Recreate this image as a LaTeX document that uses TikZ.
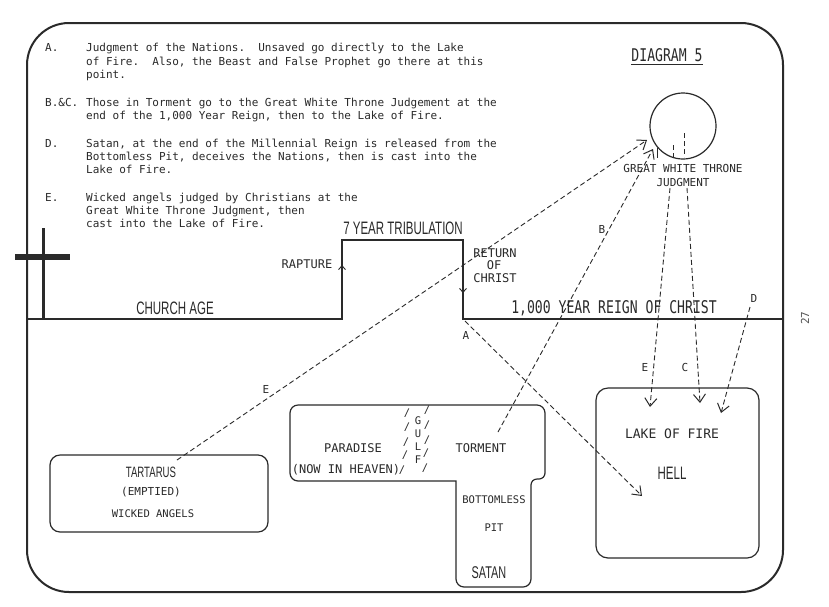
\documentclass[tikz,border=0pt]{standalone}
\usepackage{fontspec}
\usetikzlibrary{arrows.meta}
\newfontfamily\tw{DejaVu Sans Mono}
\newfontfamily\twc[FakeStretch=0.75]{DejaVu Sans Mono}
\newfontfamily\cond[FakeStretch=0.64]{Liberation Sans}
\definecolor{ink}{HTML}{2A2A2A}
\tikzset{
  body/.style={anchor=base west, inner sep=0pt, text=ink, font=\tw\fontsize{11}{13}\selectfont},
  lbl/.style={inner sep=0pt, text=ink, font=\tw\fontsize{12}{14}\selectfont},
  smalllbl/.style={inner sep=0pt, text=ink, font=\tw\fontsize{11}{13}\selectfont},
  tinylbl/.style={inner sep=0pt, text=ink, font=\tw\fontsize{10.5}{12}\selectfont},
  biglbl/.style={inner sep=0pt, text=ink, font=\cond\fontsize{18}{20}\selectfont},
  bigmono/.style={inner sep=0pt, text=ink, font=\twc\fontsize{17.5}{20}\selectfont},
  conn/.style={draw=ink, line width=0.9pt, dash pattern=on 5pt off 3pt,
    -{Straight Barb[length=8pt,width=12pt,line width=1pt]}},
  stub/.style={draw=ink, line width=0.9pt, dash pattern=on 5pt off 3pt},
  boxline/.style={draw=ink, line width=1.2pt},
}
\begin{document}
\begin{tikzpicture}[x=1pt,y=-1pt]
\fill[white] (0,0) rectangle (829,606);
\useasboundingbox (0,0) rectangle (829,606);

% outer frame
\draw[ink, line width=2pt, rounded corners=42pt] (27,23) rectangle (783,592);

% cross
\draw[ink, line width=3pt] (43,228) -- (43,319);
\draw[ink, line width=6pt] (15,257) -- (70,257);

% timeline
\draw[ink, line width=2pt] (27,319) -- (342,319) -- (342,240) -- (463,240) -- (463,319) -- (782,319);
\draw[ink, line width=0.9pt, -{Straight Barb[length=4pt,width=7pt,line width=0.9pt]}] (342,276) -- (342,265);
\draw[ink, line width=0.9pt, -{Straight Barb[length=4pt,width=7pt,line width=0.9pt]}] (463,282) -- (463,293);

% top text
\node[body] (la) at (45,51) {A.};
\node[body] (ta1) at (86,51) {Judgment of the Nations.\ \ Unsaved go directly to the Lake};
\node[body] (ta2) at (86,65) {of Fire.\ \ Also, the Beast and False Prophet go there at this};
\node[body] (ta3) at (86,78) {point.};
\node[body] (lb) at (45,106) {B.\&C.};
\node[body] (tb1) at (86,106) {Those in Torment go to the Great White Throne Judgement at the};
\node[body] (tb2) at (86,119) {end of the 1,000 Year Reign, then to the Lake of Fire.};
\node[body] (ld) at (45,147) {D.};
\node[body] (td1) at (86,147) {Satan, at the end of the Millennial Reign is released from the};
\node[body] (td2) at (86,160) {Bottomless Pit, deceives the Nations, then is cast into the};
\node[body] (td3) at (86,173) {Lake of Fire.};
\node[body] (le) at (45,201) {E.};
\node[body] (te1) at (86,201) {Wicked angels judged by Christians at the};
\node[body] (te2) at (86,214) {Great White Throne Judgment, then};
\node[body] (te3) at (86,227) {cast into the Lake of Fire.};

% timeline labels
\node[biglbl] (trib) at (403,228) {7 YEAR TRIBULATION};
\node[biglbl] (church) at (175,308) {CHURCH AGE};
\node[bigmono] (reign) at (614,308) {1,000 YEAR REIGN OF CHRIST};
\node[lbl] (rapture) at (307,264) {RAPTURE};
\node[lbl] (ret1) at (495,253) {RETURN};
\node[lbl] (ret2) at (494,265) {OF};
\node[lbl] (ret3) at (495,278) {CHRIST};

% diagram title
\node[bigmono] (dia) at (667,55) {DIAGRAM 5};
\draw[ink, line width=1pt] ([yshift=-3pt]dia.south west) -- ([yshift=-3pt]dia.south east);

% great white throne
\node[draw=ink, line width=1.2pt, circle, minimum size=66pt, inner sep=0pt] (gwt) at (683,126) {};
\node[smalllbl] (gwt1) at (683,168) {GREAT WHITE THRONE};
\node[smalllbl] (gwt2) at (683,182) {JUDGMENT};
\draw[stub] (673,145) -- (673,157);
\draw[stub] (684,133) -- (684,157);
\draw[ink, line width=1pt] (657,148) -- (657,158);

% lake of fire
\node[boxline, rounded corners=12pt, minimum width=163pt, minimum height=170pt] (lake) at (677.5,473) {};
\node[inner sep=0pt, text=ink, font=\tw\fontsize{13}{15}\selectfont] (lof) at (672,434) {LAKE OF FIRE};
\node[biglbl] (hell) at (672,473) {HELL};

% tartarus
\node[boxline, rounded corners=10pt, minimum width=218pt, minimum height=77pt] (tart) at (159,493.5) {};
\node[inner sep=0pt, text=ink, font=\cond\fontsize{15}{17}\selectfont] (tartt) at (151,472) {TARTARUS};
\node[smalllbl] (empt) at (151,492) {(EMPTIED)};
\node[tinylbl] (wick) at (153,514) {WICKED ANGELS};

% paradise / torment / pit
\draw[ink, line width=1.2pt, rounded corners=8pt] (290,443) -- (290,405) -- (545,405) [rounded corners=6pt] -- (545,479) -- (531,479) [rounded corners=8pt] -- (531,587) -- (456,587) [sharp corners] -- (456,481) [rounded corners=8pt] -- (290,481) -- cycle;
\node[lbl] (para) at (353,448) {PARADISE};
\node[lbl] (heaven) at (346,470) {(NOW IN HEAVEN)};
\node[lbl] (torm) at (481,448) {TORMENT};
\node[tinylbl] (gG) at (418,421) {G};
\node[tinylbl] (gU) at (418,434) {U};
\node[tinylbl] (gL) at (418,447) {L};
\node[tinylbl] (gF) at (418,460) {F};
\foreach \yy/\xx [count=\i] in {413/407,427/407,442/406,455/405,470/402}
  \node[tinylbl] (sl\i) at (\xx,\yy) {/};
\foreach \yy/\xx [count=\i] in {410/427,425/427,440/427,453/426,468/425}
  \node[tinylbl] (sr\i) at (\xx,\yy) {/};
\node[tinylbl] (bot) at (494,500) {BOTTOMLESS};
\node[tinylbl] (pit) at (494,528) {PIT};
\node[inner sep=0pt, text=ink, font=\cond\fontsize{17}{19}\selectfont] (satan) at (489,573) {SATAN};

% connector end points
\coordinate (eS) at (177,460);
\coordinate (eT) at (647,140);
\coordinate (bS) at (498,432);
\coordinate (bT) at (653,149);
\coordinate (aS) at (465,321);
\coordinate (aT) at (642,496);
\coordinate (e2S) at (670,188);
\coordinate (e2T) at (650,407);
\coordinate (cS) at (687,188);
\coordinate (cT) at (700,403);
\coordinate (dS) at (750,307);
\coordinate (dT) at (721,413);

\draw[conn] (eS) -- (eT);
\draw[conn] (bS) -- (bT);
\draw[conn] (aS) -- (aT);
\draw[conn] (e2S) -- (e2T);
\draw[conn] (cS) -- (cT);
\draw[conn] (dS) -- (dT);

% connector labels
\node[smalllbl] (lE) at (266,389) {E};
\node[smalllbl] (lB) at (602,229) {B};
\node[smalllbl] (lA) at (466,335) {A};
\node[smalllbl] (lE2) at (645,367) {E};
\node[smalllbl] (lC) at (685,367) {C};
\node[smalllbl] (lD) at (754,298) {D};

% page number
\node[smalllbl, rotate=90, text=ink!80] (page) at (805,318) {27};
\end{tikzpicture}
\end{document}
